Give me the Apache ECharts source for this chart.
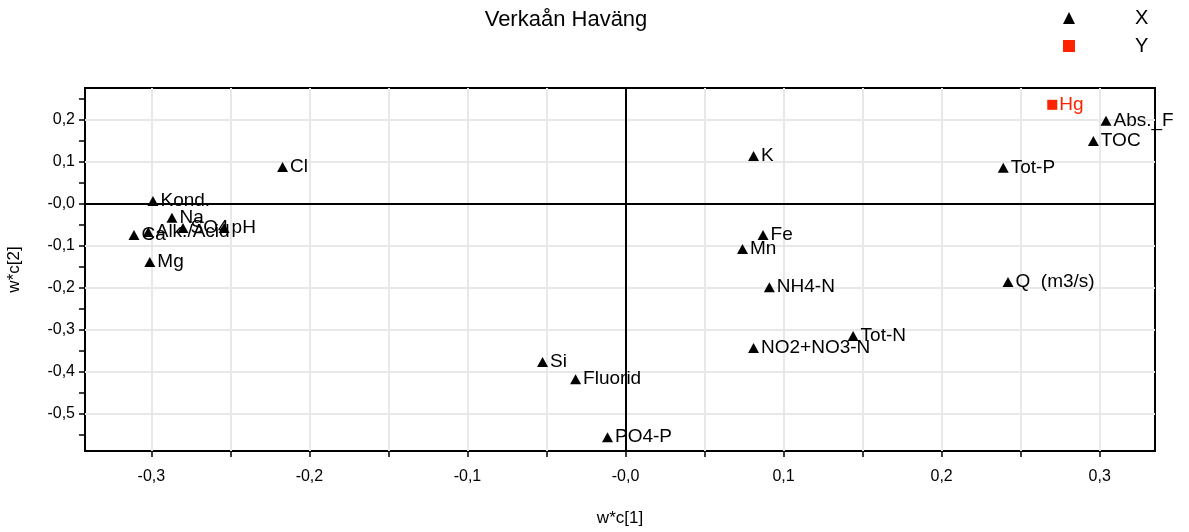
<!DOCTYPE html>
<html><head><meta charset="utf-8">
<script src="https://cdn.jsdelivr.net/npm/echarts@6/dist/echarts.min.js"></script>
<style>html,body{margin:0;padding:0;background:#fff}#c{width:1189px;height:532px}</style>
</head><body><div id="c"></div>
<script>
const titleText = 'Verkaån Haväng';
const xNames = ['Abs._F','TOC','Tot-P','K','Cl','Kond.','Na','SO4','pH','Alk./Acid','Ca','Mg','Fe','Mn','NH4-N','Q  (m3/s)','Tot-N','NO2+NO3-N','Si','Fluorid','PO4-P'];
const xC1 = [0.304,0.296,0.239,0.081,-0.217,-0.299,-0.287,-0.280,-0.254,-0.302,-0.311,-0.301,0.087,0.074,0.091,0.242,0.144,0.081,-0.0525,-0.0316,-0.0114];
const xC2 = [0.198,0.150,0.086,0.114,0.088,0.007,-0.033,-0.057,-0.057,-0.067,-0.074,-0.138,-0.074,-0.107,-0.198,-0.186,-0.314,-0.343,-0.376,-0.417,-0.555];
const yNames = ['Hg'];
const yC1 = [0.270];
const yC2 = [0.236];
const xTicks = [-0.3,-0.25,-0.2,-0.15,-0.1,-0.05,0,0.05,0.1,0.15,0.2,0.25,0.3];
const xLabelTicks = [-0.3,-0.2,-0.1,0,0.1,0.2,0.3];
const yTicks = [-0.55,-0.5,-0.45,-0.4,-0.35,-0.3,-0.25,-0.2,-0.15,-0.1,-0.05,0,0.05,0.1,0.15,0.2,0.25];
const yLabelTicks = [-0.5,-0.4,-0.3,-0.2,-0.1,0,0.1,0.2];
const xRange = [-0.342, 0.335];
const yRange = [-0.588, 0.276];

const fmt = v => (Math.abs(v) < 1e-9 ? '-0,0' : v.toFixed(1).replace('.', ','));
const tickFont = {fontFamily:'Liberation Sans, Arial', fontSize:16, color:'#000'};
const labelStyle = {show:true, position:'right', distance:2, fontFamily:'Liberation Sans, Arial', fontSize:19, color:'#000'};

const chart = echarts.init(document.getElementById('c'));
chart.setOption({
  animation:false,
  backgroundColor:'#fff',
  title:{text:titleText, left:561, top:4, textAlign:'center',
    textStyle:{fontFamily:'Liberation Sans', fontWeight:'normal', fontSize:22, color:'#000'}},
  legend:{orient:'vertical', left:1058, top:2, itemGap:6, itemWidth:12, itemHeight:12,
    data:[{name:'X', icon:'triangle'},{name:'Y', icon:'rect'}],
    textStyle:{fontFamily:'Liberation Sans', fontSize:20, lineHeight:22, color:'#000', padding:[0,0,0,55]}},
  grid:{left:85, right:34, top:88, bottom:81, show:true, borderColor:'#000', borderWidth:2,
    containLabel:false, outerBoundsMode:'none'},
  xAxis:{type:'value', min:xRange[0], max:xRange[1],
    name:'w*c[1]', nameLocation:'middle', nameGap:59,
    nameTextStyle:{fontFamily:'Liberation Sans', fontSize:17, color:'#000'},
    axisLine:{onZero:false, lineStyle:{color:'#000', width:2}},
    axisTick:{show:true, length:6, customValues:xTicks, lineStyle:{color:'#000', width:1.5}},
    axisLabel:{customValues:xLabelTicks, formatter:fmt, margin:18, ...tickFont},
    splitLine:{show:false}},
  yAxis:{type:'value', min:yRange[0], max:yRange[1],
    name:'w*c[2]', nameLocation:'middle', nameGap:62,
    nameTextStyle:{fontFamily:'Liberation Sans', fontSize:17, color:'#000'},
    axisLine:{onZero:false, lineStyle:{color:'#000', width:2}},
    axisTick:{show:true, length:6, customValues:yTicks, lineStyle:{color:'#000', width:1.5}},
    axisLabel:{customValues:yLabelTicks, formatter:fmt, margin:10, ...tickFont},
    splitLine:{show:false}},
  series:[
    {name:'grid', type:'scatter', data:[], silent:true,
      markLine:{silent:true, symbol:'none', label:{show:false}, animation:false,
        lineStyle:{color:'#e8e8e8', width:2, type:'solid'},
        data:[...xTicks.map(v=>({xAxis:v})), ...yLabelTicks.map(v=>({yAxis:v}))]}},
    {name:'zero', type:'scatter', data:[], silent:true, z:3,
      markLine:{silent:true, symbol:'none', label:{show:false}, animation:false,
        lineStyle:{color:'#000', width:2, type:'solid'},
        data:[{xAxis:0},{yAxis:0}]}},
    {name:'X', type:'scatter', symbol:'triangle', symbolSize:[11,10], z:5,
      itemStyle:{color:'#000', opacity:1},
      label:{...labelStyle, formatter:p=>p.data[2]},
      data:xNames.map((n,i)=>[xC1[i], xC2[i], n])},
    {name:'Y', type:'scatter', symbol:'rect', symbolSize:[10,10], z:6,
      itemStyle:{color:'#ff2200', opacity:1},
      label:{...labelStyle, color:'#ff2200', formatter:p=>p.data[2]},
      data:yNames.map((n,i)=>[yC1[i], yC2[i], n])}
  ]
});
</script></body></html>
